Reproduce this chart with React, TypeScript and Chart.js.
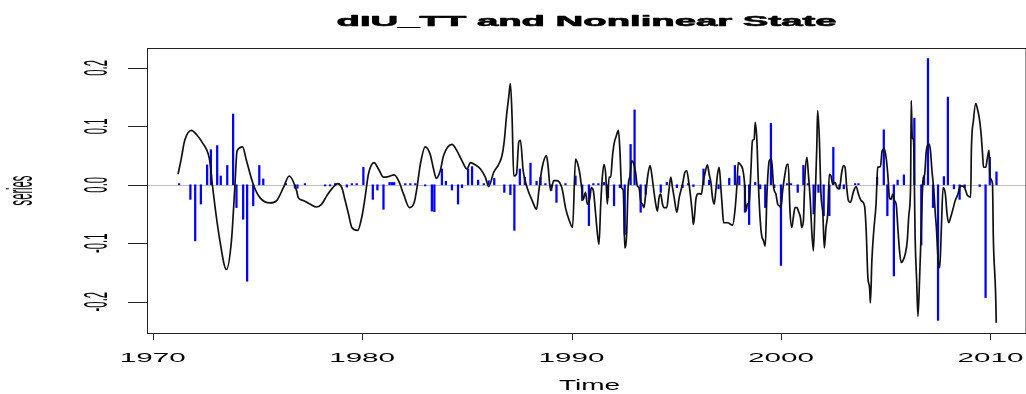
import { useEffect, useRef } from "react";
import { Chart, registerables } from "chart.js";

Chart.register(...registerables);

// ---- Nonlinear state (black line): time (decimal years) and value ----
const stateYears = [
  1971.21, 1971.36, 1971.53, 1971.85, 1972.09, 1972.41, 1972.65, 1972.75, 1972.85, 1973.21,
  1973.52, 1973.76, 1973.92, 1974.03, 1974.29, 1974.48, 1974.8, 1975.12, 1975.6, 1975.92,
  1976.24, 1976.52, 1976.87, 1976.95, 1977.19, 1977.51, 1977.83, 1978.07, 1978.31, 1978.55,
  1978.84, 1979.03, 1979.19, 1979.35, 1979.51, 1979.79, 1979.98, 1980.14, 1980.3, 1980.57,
  1980.78, 1981.02, 1981.26, 1981.53, 1981.74, 1981.98, 1982.26, 1982.49, 1982.62, 1982.78,
  1983.01, 1983.25, 1983.41, 1983.54, 1983.73, 1983.89, 1984.29, 1984.53, 1984.77, 1985.01,
  1985.17, 1985.41, 1985.65, 1985.88, 1986.04, 1986.28, 1986.52, 1986.68, 1986.79, 1986.89,
  1987.0, 1987.08, 1987.16, 1987.24, 1987.37, 1987.48, 1987.56, 1987.69, 1987.88, 1988.12,
  1988.33, 1988.44, 1988.6, 1988.8, 1988.87, 1989.0, 1989.15, 1989.31, 1989.55, 1989.71,
  1989.87, 1990.05, 1990.19, 1990.3, 1990.4, 1990.48, 1990.56, 1990.67, 1990.75, 1990.88,
  1990.94, 1991.04, 1991.15, 1991.23, 1991.31, 1991.39, 1991.47, 1991.55, 1991.63, 1991.71,
  1991.79, 1991.87, 1991.95, 1992.03, 1992.14, 1992.24, 1992.31, 1992.39, 1992.47, 1992.54,
  1992.63, 1992.7, 1992.79, 1992.87, 1992.95, 1993.06, 1993.14, 1993.22, 1993.3, 1993.38,
  1993.46, 1993.54, 1993.65, 1993.75, 1993.83, 1993.91, 1994.02, 1994.1, 1994.18, 1994.26,
  1994.34, 1994.42, 1994.55, 1994.63, 1994.74, 1994.82, 1994.9, 1995.03, 1995.14, 1995.22,
  1995.3, 1995.41, 1995.5, 1995.61, 1995.69, 1995.77, 1995.82, 1995.88, 1995.93, 1996.01,
  1996.09, 1996.2, 1996.28, 1996.36, 1996.49, 1996.57, 1996.65, 1996.73, 1996.81, 1996.89,
  1996.97, 1997.05, 1997.13, 1997.21, 1997.26, 1997.45, 1997.69, 1997.8, 1997.9, 1997.96,
  1998.05, 1998.17, 1998.25, 1998.33, 1998.4, 1998.48, 1998.56, 1998.64, 1998.72, 1998.77,
  1998.85, 1998.91, 1998.99, 1999.07, 1999.17, 1999.25, 1999.33, 1999.44, 1999.55, 1999.65,
  1999.76, 1999.84, 1999.92, 2000.0, 2000.08, 2000.19, 2000.29, 2000.35, 2000.43, 2000.51,
  2000.59, 2000.67, 2000.77, 2000.83, 2000.93, 2000.99, 2001.07, 2001.15, 2001.24, 2001.31,
  2001.4, 2001.47, 2001.55, 2001.63, 2001.71, 2001.75, 2001.83, 2001.91, 2002.0, 2002.07,
  2002.15, 2002.23, 2002.31, 2002.39, 2002.47, 2002.58, 2002.68, 2002.79, 2002.9, 2002.98,
  2003.06, 2003.14, 2003.22, 2003.32, 2003.43, 2003.51, 2003.59, 2003.7, 2003.83, 2003.99,
  2004.07, 2004.15, 2004.23, 2004.27, 2004.34, 2004.43, 2004.54, 2004.62, 2004.75, 2004.83,
  2004.94, 2005.03, 2005.1, 2005.18, 2005.26, 2005.34, 2005.42, 2005.5, 2005.58, 2005.66,
  2005.74, 2005.82, 2005.93, 2006.03, 2006.11, 2006.19, 2006.22, 2006.27, 2006.33, 2006.41,
  2006.48, 2006.54, 2006.62, 2006.7, 2006.78, 2006.86, 2006.94, 2007.05, 2007.13, 2007.21,
  2007.3, 2007.37, 2007.42, 2007.5, 2007.58, 2007.66, 2007.74, 2007.85, 2007.93, 2008.01,
  2008.1, 2008.21, 2008.32, 2008.45, 2008.53, 2008.61, 2008.77, 2008.9, 2009.06, 2009.09,
  2009.19, 2009.3, 2009.38, 2009.46, 2009.54, 2009.62, 2009.67, 2009.78, 2009.86, 2009.94,
  2009.98, 2010.1, 2010.14, 2010.25, 2010.28,
];
const stateValues = [
  0.018, 0.044, 0.076, 0.093, 0.086, 0.07, 0.053, 0.035, 0.0, -0.096,
  -0.145, -0.096, -0.005, 0.058, 0.065, 0.041, 0.001, -0.022, -0.031, -0.027,
  -0.005, 0.015, -0.01, -0.022, -0.027, -0.033, -0.038, -0.033, -0.019, -0.007,
  0.002, -0.005, -0.027, -0.05, -0.073, -0.078, -0.056, -0.022, 0.018, 0.038,
  0.027, 0.013, 0.014, 0.017, 0.007, -0.016, -0.039, -0.03, -0.005, 0.035,
  0.065, 0.052, 0.027, 0.011, 0.024, 0.05, 0.069, 0.058, 0.041, 0.027,
  0.038, 0.034, 0.027, 0.013, -0.003, 0.021, 0.035, 0.05, 0.076, 0.116,
  0.15, 0.173, 0.116, 0.015, 0.018, 0.073, 0.076, 0.024, -0.005, -0.027,
  -0.042, -0.01, 0.03, 0.05, 0.035, -0.01, 0.007, 0.007, -0.007, -0.039,
  -0.059, -0.073, 0.044, 0.035, 0.018, -0.005, -0.025, -0.013, -0.033, -0.022,
  -0.005, -0.01, -0.05, -0.082, -0.102, -0.036, 0.013, 0.035, 0.018, -0.033,
  0.013, 0.013, 0.047, 0.07, 0.084, 0.093, 0.058, -0.005, -0.01, -0.108,
  -0.085, -0.005, 0.015, 0.041, 0.038, 0.021, -0.002, -0.005, -0.027, -0.033,
  -0.039, -0.016, 0.018, 0.033, 0.018, -0.005, -0.033, -0.045, -0.022, -0.016,
  -0.033, -0.039, -0.039, -0.016, 0.013, -0.005, -0.022, -0.047, -0.022, -0.01,
  0.001, 0.021, 0.024, 0.001, -0.022, -0.05, -0.068, -0.05, -0.027, -0.016,
  -0.015, -0.016, 0.004, 0.018, 0.034, 0.018, 0.005, -0.022, -0.033, -0.01,
  0.018, 0.03, -0.005, -0.045, -0.065, -0.065, -0.069, -0.045, 0.001, 0.038,
  0.035, 0.027, 0.007, -0.045, -0.033, -0.03, 0.021, 0.076, 0.078, 0.107,
  0.076, 0.013, -0.05, -0.085, -0.096, -0.105, -0.016, 0.041, 0.044, -0.005,
  -0.016, -0.033, -0.036, -0.039, -0.01, 0.018, 0.035, 0.035, -0.045, -0.073,
  -0.056, -0.039, -0.039, -0.045, -0.056, -0.073, -0.062, 0.018, 0.047, 0.018,
  -0.027, -0.079, -0.113, -0.027, 0.064, 0.127, 0.081, -0.016, -0.05, -0.108,
  -0.073, -0.05, 0.018, 0.015, 0.001, 0.004, -0.005, -0.007, 0.021, 0.033,
  0.03, -0.005, -0.027, -0.03, -0.016, -0.007, -0.003, -0.016, -0.027, -0.036,
  -0.079, -0.159, -0.176, -0.202, -0.13, -0.079, -0.033, 0.03, 0.031, 0.058,
  0.061, 0.044, 0.018, -0.022, -0.025, -0.016, -0.027, -0.033, -0.073, -0.113,
  -0.133, -0.13, -0.119, -0.096, -0.05, 0.001, 0.144, 0.081, 0.076, -0.096,
  -0.165, -0.225, -0.159, -0.073, 0.007, 0.018, 0.058, 0.07, 0.061, 0.024,
  -0.01, -0.05, -0.073, -0.125, -0.142, -0.073, -0.005, -0.016, -0.05, -0.065,
  -0.056, -0.042, -0.027, -0.016, -0.005, -0.002, -0.005, -0.018, -0.021, 0.056,
  0.11, 0.139, 0.13, 0.116, 0.093, 0.056, 0.03, 0.03, 0.047, 0.059,
  0.013, 0.002, -0.09, -0.187, -0.236,
];

// ---- dIU_TT (blue vertical bars): time and value ----
const seriesYears = [
  1971.26, 1971.8, 1972.03, 1972.3, 1972.6, 1972.78, 1973.08, 1973.25, 1973.56, 1973.84,
  1974.0, 1974.32, 1974.51, 1974.8, 1975.09, 1975.28, 1976.36, 1976.79, 1976.91, 1977.27,
  1978.23, 1978.47, 1978.71, 1979.27, 1979.51, 1979.74, 1980.06, 1980.51, 1980.73, 1981.02,
  1981.31, 1981.42, 1981.53, 1982.06, 1982.3, 1982.54, 1983.01, 1983.33, 1983.45, 1983.81,
  1984.0, 1984.29, 1984.58, 1984.77, 1985.06, 1985.25, 1985.54, 1985.81, 1986.04, 1986.31,
  1986.79, 1987.08, 1987.27, 1987.53, 1987.77, 1988.04, 1988.33, 1988.52, 1988.75, 1989.03,
  1989.28, 1989.71, 1990.19, 1990.51, 1990.83, 1991.04, 1991.28, 1991.55, 1991.74, 1992.03,
  1992.31, 1992.54, 1992.82, 1993.01, 1993.3, 1993.54, 1994.26, 1994.55, 1995.03, 1995.3,
  1995.57, 1995.82, 1996.3, 1996.57, 1997.02, 1997.53, 1997.8, 1998.01, 1998.28, 1998.48,
  1998.77, 1999.01, 1999.25, 1999.52, 1999.68, 2000.0, 2000.29, 2000.48, 2000.8, 2001.07,
  2001.28, 2001.56, 2001.79, 2002.04, 2002.31, 2002.5, 2002.79, 2003.0, 2003.54, 2003.7,
  2004.59, 2004.91, 2005.08, 2005.39, 2005.57, 2005.87, 2006.37, 2006.7, 2006.83, 2007.02,
  2007.26, 2007.5, 2007.78, 2007.97, 2008.26, 2008.53, 2008.77, 2009.49, 2009.77, 2009.97,
  2010.29,
];
const seriesValues = [
  0.002, -0.025, -0.096, -0.033, 0.034, 0.06, 0.067, 0.015, 0.033, 0.121,
  -0.039, -0.059, -0.165, -0.036, 0.033, 0.01, 0.002, -0.006, -0.006, 0.002,
  -0.002, -0.002, 0.002, -0.004, 0.002, 0.002, 0.03, -0.025, -0.009, -0.042,
  0.004, 0.004, 0.004, 0.002, 0.002, 0.002, -0.002, -0.045, -0.046, 0.027,
  0.006, -0.009, -0.033, -0.005, 0.027, 0.031, 0.008, 0.002, 0.007, 0.011,
  -0.013, -0.017, -0.078, 0.027, 0.013, 0.037, 0.006, 0.013, 0.002, -0.01,
  -0.03, 0.002, 0.015, -0.027, -0.07, 0.002, 0.002, 0.004, -0.022, -0.036,
  -0.005, -0.085, 0.069, 0.128, -0.047, -0.016, -0.013, 0.004, -0.005, -0.005,
  0.002, -0.003, 0.027, 0.008, -0.007, 0.011, 0.033, 0.015, -0.047, -0.068,
  0.004, -0.007, -0.039, 0.105, -0.005, -0.138, 0.002, 0.002, -0.013, 0.033,
  0.002, -0.05, -0.013, -0.053, -0.053, 0.064, -0.007, -0.007, 0.002, 0.002,
  0.013, 0.094, -0.053, -0.156, 0.008, 0.017, 0.114, -0.103, 0.015, 0.216,
  -0.039, -0.232, 0.014, 0.15, -0.007, -0.025, -0.005, -0.003, -0.193, 0.047,
  0.022,
];

// ---- axes ----
const xTickValues = [1970, 1980, 1990, 2000, 2010];
const xTickLabels = ["1970", "1980", "1990", "2000", "2010"];
const yTickValues = [-0.2, -0.1, 0.0, 0.1, 0.2];
const yTickLabels = ["-0.2", "-0.1", "0.0", "0.1", "0.2"];
const xRange = [1969.728, 2011.7];
const yRange = [-0.2536, 0.234];
const titleText = "dIU_TT and Nonlinear State";
const xAxisTitle = "Time";
const yAxisTitle = "series";

const FONT = '"Liberation Sans", Arial, Helvetica, sans-serif';

function drawText(
  ctx: CanvasRenderingContext2D,
  text: string,
  font: string,
  x: number,
  y: number,
  sx: number,
  sy: number,
  rotated: boolean,
  strokeW = 0
) {
  ctx.save();
  ctx.translate(x, y);
  if (rotated) ctx.rotate(-Math.PI / 2);
  ctx.scale(sx, sy);
  ctx.font = font;
  ctx.textAlign = "center";
  ctx.textBaseline = "alphabetic";
  ctx.fillStyle = "#000";
  ctx.fillText(text, 0, 0);
  if (strokeW > 0) {
    ctx.strokeStyle = "#000";
    ctx.lineWidth = strokeW;
    ctx.lineJoin = "round";
    ctx.strokeText(text, 0, 0);
  }
  ctx.restore();
}

const rPlotPlugin = {
  id: "rPlot",
  beforeDatasetsDraw(chart: any) {
    const { ctx, chartArea, scales } = chart;
    const y0 = Math.round(scales.y.getPixelForValue(0)) + 0.5;
    ctx.save();
    ctx.strokeStyle = "#bebebe";
    ctx.lineWidth = 1;
    ctx.beginPath();
    ctx.moveTo(chartArea.left, y0);
    ctx.lineTo(chartArea.right, y0);
    ctx.stroke();
    ctx.restore();
  },
  afterDraw(chart: any) {
    const { ctx, chartArea, scales } = chart;
    const { left, right, top, bottom } = chartArea;
    ctx.save();
    ctx.strokeStyle = "#222";
    ctx.lineWidth = 1;
    // box
    ctx.strokeRect(left + 0.5, top + 0.5, right - left - 1 + 0.5, bottom - top);
    // x ticks
    ctx.beginPath();
    xTickValues.forEach((v) => {
      const px = Math.round(scales.x.getPixelForValue(v)) + 0.5;
      ctx.moveTo(px, bottom);
      ctx.lineTo(px, bottom + 7);
    });
    // y ticks
    yTickValues.forEach((v) => {
      const py = Math.round(scales.y.getPixelForValue(v)) + 0.5;
      ctx.moveTo(left - 19, py);
      ctx.lineTo(left, py);
    });
    ctx.stroke();
    ctx.restore();

    const cx = (left + right) / 2;
    const cy = (top + bottom) / 2;
    const fontN = `13px ${FONT}`;
    xTickValues.forEach((v, i) => {
      drawText(ctx, xTickLabels[i], fontN, scales.x.getPixelForValue(v), bottom + 29, 2.28, 1, false);
    });
    yTickValues.forEach((v, i) => {
      drawText(ctx, yTickLabels[i], fontN, left - 40, scales.y.getPixelForValue(v), 0.87, 2.5, true);
    });
    drawText(ctx, xAxisTitle, `14px ${FONT}`, cx + 3, bottom + 57, 2.0, 1, false);
    drawText(ctx, yAxisTitle, fontN, 31.5, cy, 0.86, 2.7, true);

    // title, fitted to its width
    const fontB = `bold 14px ${FONT}`;
    ctx.save();
    ctx.font = fontB;
    const w = ctx.measureText(titleText).width;
    ctx.restore();
    drawText(ctx, titleText, fontB, cx, 26, 500 / w, 1, false, 0.6);
  },
};

export default function App() {
  const canvasRef = useRef<HTMLCanvasElement | null>(null);

  useEffect(() => {
    const canvas = canvasRef.current;
    if (!canvas) return;
    const chart = new Chart(canvas, {
      type: "bar",
      data: {
        datasets: [
          {
            type: "line",
            label: "Nonlinear State",
            data: stateYears.map((x, i) => ({ x, y: stateValues[i] })),
            borderColor: "#111",
            borderWidth: 1.7,
            pointRadius: 0,
            cubicInterpolationMode: "monotone",
            order: 0,
          } as any,
          {
            type: "bar",
            label: "dIU_TT",
            data: seriesYears.map((x, i) => ({ x, y: seriesValues[i] })),
            backgroundColor: "#0000ff",
            borderWidth: 0,
            barThickness: 1.6,
            order: 1,
          } as any,
        ],
      },
      options: {
        responsive: false,
        animation: false,
        devicePixelRatio: 1,
        layout: { padding: { left: 147, right: 0, top: 48, bottom: 61 } },
        scales: {
          x: { type: "linear", min: xRange[0], max: xRange[1], display: false, offset: false },
          y: { type: "linear", min: yRange[0], max: yRange[1], display: false },
        },
        plugins: {
          legend: { display: false },
          title: { display: false },
          tooltip: { enabled: false },
        },
      },
      plugins: [rPlotPlugin],
    });
    return () => chart.destroy();
  }, []);

  return (
    <div style={{ position: "fixed", left: 0, top: 0, width: 1026, height: 394, background: "#fff" }}>
      <canvas ref={canvasRef} width={1026} height={394} style={{ display: "block" }} />
    </div>
  );
}
